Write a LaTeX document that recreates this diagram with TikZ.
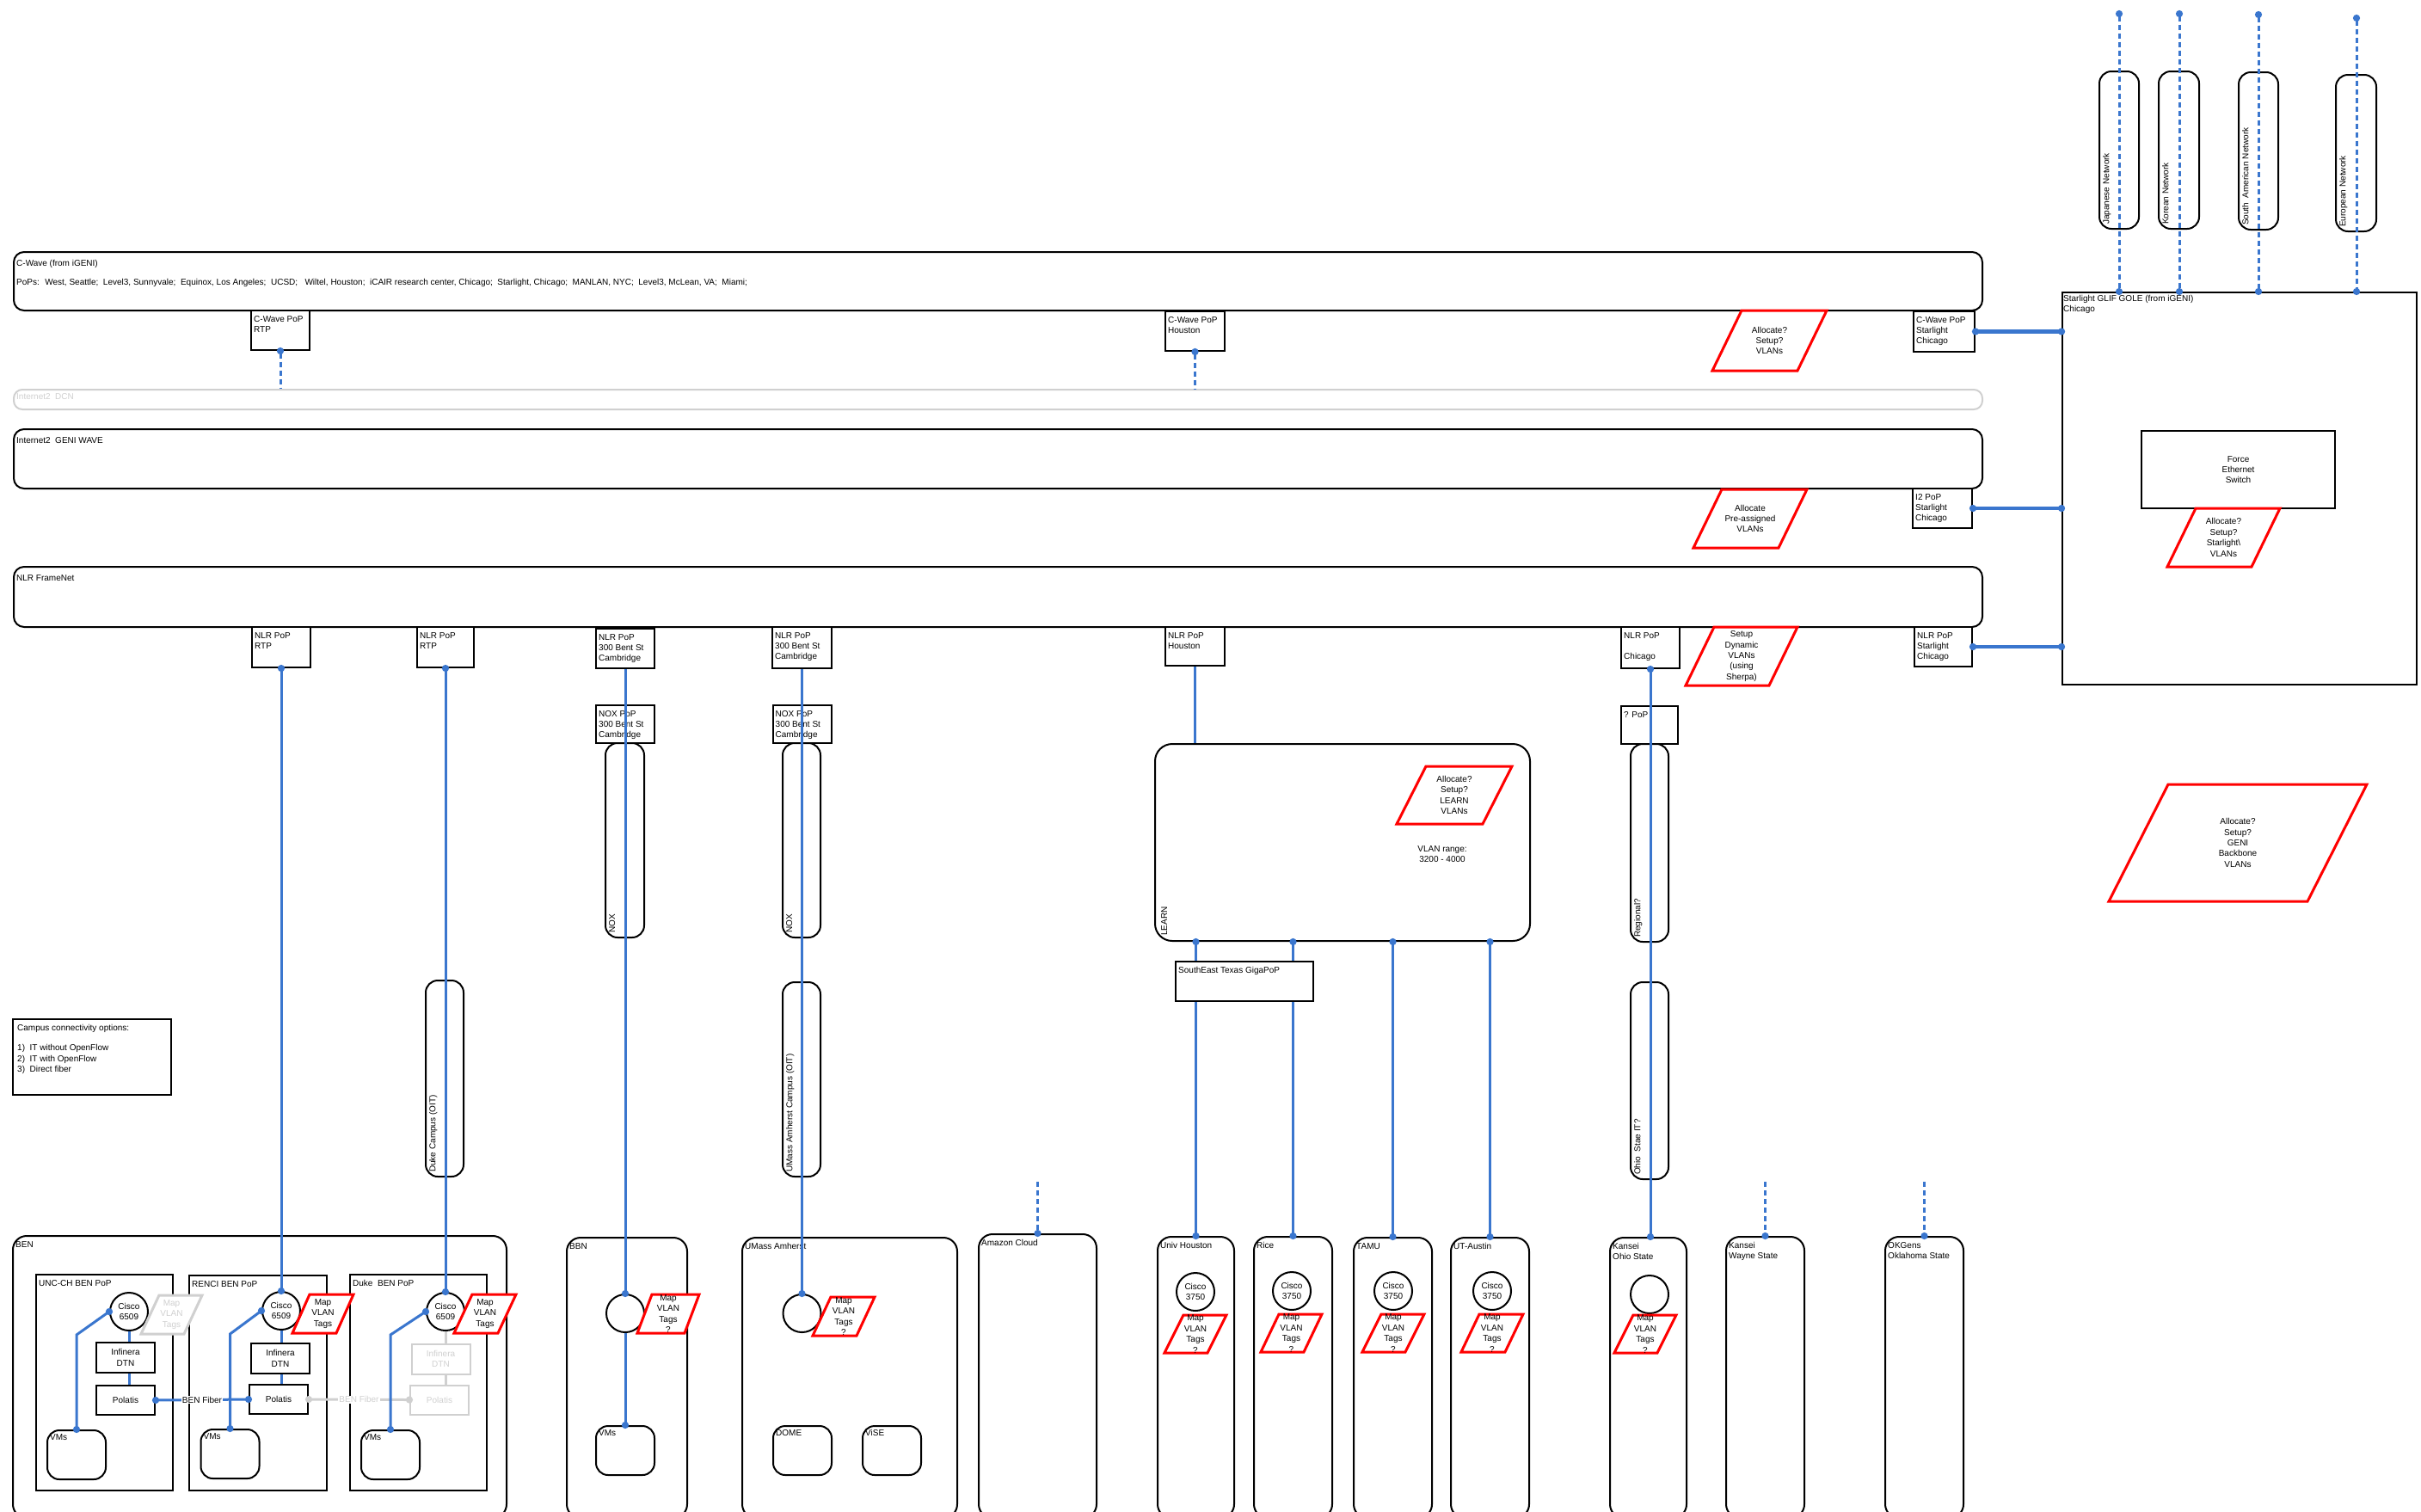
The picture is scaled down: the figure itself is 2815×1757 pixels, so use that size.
\documentclass[tikz,border=0pt]{standalone}
\usepackage{fontspec}
\setmainfont{Liberation Sans}
\usepackage{tikz}
\usetikzlibrary{arrows.meta,calc,fit,positioning}
\definecolor{linkblue}{RGB}{58,118,206}
\definecolor{fadegray}{RGB}{208,208,208}
\newcommand{\vlanflag}[6]{%
  \draw[flag, shift={#2}] ({#5-#3/2},{-#4/2}) -- ({#3/2},{-#4/2}) -- ({#3/2-#5},{#4/2}) -- ({-#3/2},{#4/2}) -- cycle;
  \node[flagtext] (#1) at #2 {#6};}
\tikzset{
  every node/.style={font=\fontsize{10}{12.4}\selectfont},
  band/.style={draw, line width=2pt, rounded corners=12pt, minimum width=2289pt, inner sep=0pt},
  container/.style={draw, line width=2pt, inner sep=0pt},
  site/.style={container, rounded corners=16pt},
  pill/.style={container, rounded corners=14pt},
  popbox/.style={draw, line width=2pt, fill=white, inner sep=0pt, minimum width=68pt, minimum height=46pt},
  devbox/.style={draw, line width=2pt, fill=white, inner sep=0pt, minimum width=68pt, minimum height=35pt, align=center},
  fadebox/.style={devbox, draw=fadegray, text=fadegray},
  vmbox/.style={draw, line width=2pt, rounded corners=14pt, minimum width=68pt, minimum height=57pt},
  switch/.style={draw, circle, line width=2pt, fill=white, minimum size=44pt, inner sep=0pt, align=center},
  title/.style={anchor=north west, align=left, inner xsep=4pt, inner ysep=7pt},
  vtitle/.style={rotate=90, anchor=north west, inner xsep=6pt, inner ysep=5pt},
  flag/.style={draw=red, line width=3pt, fill=white},
  fadeflag/.style={draw=fadegray, line width=3pt, fill=white},
  flagtext/.style={align=center, inner sep=0pt},
  link/.style={draw=linkblue, line width=3pt},
  fadelink/.style={draw=fadegray, line width=3pt},
  dlink/.style={draw=linkblue, line width=3pt, dash pattern=on 6pt off 4pt},
  trunk/.style={draw=linkblue, line width=4.5pt},
  dotboth/.style={{Circle[length=8pt]}-{Circle[length=8pt]}, shorten <=-4pt, shorten >=-4pt},
  dotstart/.style={{Circle[length=8pt]}-, shorten <=-4pt},
  dotend/.style={-{Circle[length=8pt]}, shorten >=-4pt},
  fiberlabel/.style={fill=white, inner sep=1pt}
}
\begin{document}
\begin{tikzpicture}[x=1pt,y=-1pt]
  \path[use as bounding box, fill=white] (0,0) rectangle (2815,1757);
  \clip (0,0) rectangle (2815,1757);

  \node[band, minimum height=68pt] (cwave) at (1160.5,327) {};
  \node[title, yshift=-3pt] (cwavetext) at (cwave.north west) {C-Wave (from iGENI)\\[9.6pt]PoPs:~ West, Seattle;~ Level3, Sunnyvale;~ Equinox, Los Angeles;~ UCSD;~~ Wiltel, Houston;~ iCAIR research center, Chicago;~ Starlight, Chicago;~ MANLAN, NYC;~ Level3, McLean, VA;~ Miami;};
  \node[band, draw=fadegray, rounded corners=10pt, minimum height=23pt] (dcn) at (1160.5,464.5) {};
  \node[title, text=fadegray, inner ysep=5pt] (dcntext) at (dcn.north west) {Internet2~ DCN};
  \node[band, minimum height=69pt] (i2wave) at (1160.5,533.5) {};
  \node[title, yshift=-3pt] (i2wavetext) at (i2wave.north west) {Internet2~ GENI WAVE};
  \node[band, minimum height=70pt] (nlr) at (1160.5,694) {};
  \node[title, yshift=-3pt] (nlrtext) at (nlr.north west) {NLR FrameNet};

  \node[popbox] (cwrtp) at (326,384) {};
  \node[title] (cwrtptext) at (cwrtp.north west) {C-Wave PoP\\RTP};
  \node[popbox, minimum width=69pt] (cwhou) at (1389.5,385) {};
  \node[title] (cwhoutext) at (cwhou.north west) {C-Wave PoP\\Houston};
  \node[popbox, minimum width=71pt, minimum height=47pt] (cwstar) at (2260.5,385.5) {};
  \node[title] (cwstartext) at (cwstar.north west) {C-Wave PoP\\Starlight\\Chicago};
  \vlanflag{flagcw}{(2057.5,396)}{133}{70}{34}{Allocate?\\Setup?\\VLANs}

  \node[popbox, minimum width=69pt] (i2star) at (2258.5,591) {};
  \node[title] (i2startext) at (i2star.north west) {I2 PoP\\Starlight\\Chicago};
  \vlanflag{flagi2}{(2035,603)}{132}{68}{33}{Allocate\\Pre-assigned\\VLANs}

  \node[popbox, minimum height=47pt] (nlrrtp) at (327,752.5) {};
  \node[title] (nlrrtptext) at (nlrrtp.north west) {NLR PoP\\RTP};
  \node[popbox, minimum width=66pt, minimum height=47pt] (nlrduke) at (518,752.5) {};
  \node[title] (nlrduketext) at (nlrduke.north west) {NLR PoP\\RTP};
  \node[popbox] (nlrbbn) at (727,754) {};
  \node[title] (nlrbbntext) at (nlrbbn.north west) {NLR PoP\\300 Bent St\\Cambridge};
  \node[popbox, minimum height=44pt] (noxbbn) at (727,842) {};
  \node[title] (noxbbntext) at (noxbbn.north west) {NOX PoP\\300 Bent St\\Cambridge};
  \node[popbox, minimum width=69pt, minimum height=48pt] (nlrumass) at (932.5,753) {};
  \node[title] (nlrumasstext) at (nlrumass.north west) {NLR PoP\\300 Bent St\\Cambridge};
  \node[popbox, minimum height=44pt] (noxumass) at (932.5,842) {};
  \node[title] (noxumasstext) at (noxumass.north west) {NOX PoP\\300 Bent St\\Cambridge};
  \node[popbox, minimum width=69pt, minimum height=45pt] (nlrhou) at (1389.5,751.5) {};
  \node[title] (nlrhoutext) at (nlrhou.north west) {NLR PoP\\Houston};
  \node[popbox, minimum height=48pt] (nlrchi) at (1919,753) {};
  \node[title] (nlrchitext) at (nlrchi.north west) {NLR PoP\\[12.4pt]Chicago};
  \node[popbox, minimum width=66pt, minimum height=44pt] (qpop) at (1918,843) {};
  \node[title] (qpoptext) at (qpop.north west) {? PoP};
  \vlanflag{flagnlr}{(2025,763)}{130}{68}{33}{Setup\\Dynamic\\VLANs\\(using\\Sherpa)}
  \node[popbox, minimum width=67pt] (nlrstar) at (2259.5,752) {};
  \node[title] (nlrstartext) at (nlrstar.north west) {NLR PoP\\Starlight\\Chicago};

  \node[container, fit={(2398,340)(2810,796)}] (gole) {};
  \node[title, inner xsep=2pt, inner ysep=4pt] (goletext) at (gole.north west) {Starlight GLIF GOLE (from iGENI)\\Chicago};
  \node[popbox, minimum width=225pt, minimum height=90pt, align=center] (force) at (2602.5,546) {Force\\Ethernet\\Switch};
  \vlanflag{flagstar}{(2585.5,625)}{131}{68}{33}{Allocate?\\Setup?\\Starlight\textbackslash\\VLANs}
  \vlanflag{flaggeni}{(2602,980)}{300}{136}{69}{Allocate?\\Setup?\\GENI\\Backbone\\VLANs}

  \node[pill, fit={(2441,83)(2487,266)}] (japan) {};
  \node[vtitle] (japantext) at (japan.south west) {Japanese Network};
  \node[pill, fit={(2510,83)(2557,266)}] (korea) {};
  \node[vtitle] (koreatext) at (korea.south west) {Korean Network};
  \node[pill, fit={(2603,84)(2649,267)}] (southam) {};
  \node[vtitle] (southamtext) at (southam.south west) {South~ American Network};
  \node[pill, fit={(2716,87)(2763,269)}] (europe) {};
  \node[vtitle] (europetext) at (europe.south west) {European Network};
  \coordinate (japanend) at (2464,16);
  \coordinate (koreaend) at (2534,16);
  \coordinate (southamend) at (2626,17);
  \coordinate (europeend) at (2740,21);

  \node[container, fit={(15,1185)(199,1273)}] (campus) {};
  \node[title, inner xsep=6pt, inner ysep=7pt] (campustext) at (campus.north west) {Campus connectivity options:\\[11pt]1)~ IT without OpenFlow\\2)~ IT with OpenFlow\\3)~ Direct fiber};

  \node[pill, fit={(495,1140)(539,1368)}] (dukeoit) {};
  \node[vtitle] (dukeoittext) at (dukeoit.south west) {Duke Campus (OIT)};
  \node[pill, fit={(704,864)(749,1090)}] (noxbbnpill) {};
  \node[vtitle] (noxbbnpilltext) at (noxbbnpill.south west) {NOX};
  \node[pill, fit={(910,864)(954,1090)}] (noxumasspill) {};
  \node[vtitle] (noxumasspilltext) at (noxumasspill.south west) {NOX};
  \node[pill, fit={(910,1142)(954,1368)}] (umassoit) {};
  \node[vtitle] (umassoittext) at (umassoit.south west) {UMass Amherst Campus (OIT)};
  \node[pill, fit={(1896,865)(1940,1095)}] (regional) {};
  \node[vtitle] (regionaltext) at (regional.south west) {Regional?};
  \node[pill, fit={(1896,1142)(1940,1371)}] (ohiooit) {};
  \node[vtitle] (ohiooittext) at (ohiooit.south west) {Ohio~ Stae IT?};

  \node[site, fit={(15,1437)(589,1765)}] (ben) {};
  \node[title] (bentext) at (ben.north west) {BEN};
  \node[container, fit={(42,1482)(201,1733)}] (uncpop) {};
  \node[title] (uncpoptext) at (uncpop.north west) {UNC-CH BEN PoP};
  \node[container, fit={(220,1483)(380,1733)}] (rencipop) {};
  \node[title] (rencipoptext) at (rencipop.north west) {RENCI BEN PoP};
  \node[container, fit={(407,1482)(566,1733)}] (dukepop) {};
  \node[title] (dukepoptext) at (dukepop.north west) {Duke~ BEN PoP};

  \node[switch] (ciscounc) at (150,1525) {Cisco\\6509};
  \node[switch] (ciscorenci) at (327,1524) {Cisco\\6509};
  \node[switch] (ciscoduke) at (518,1525) {Cisco\\6509};
  \draw[fadeflag] (185,1506) -- (235,1506) -- (214,1551) -- (164,1551) -- cycle;
  \node[flagtext, text=fadegray] (mapunc) at (199.5,1528.5) {Map\\VLAN\\Tags};
  \vlanflag{maprenci}{(375.5,1527.5)}{71}{45}{20}{Map\\VLAN\\Tags}
  \vlanflag{mapduke}{(564,1527.5)}{72}{45}{21}{Map\\VLAN\\Tags}
  \node[devbox] (infunc) at (146,1578.5) {Infinera\\DTN};
  \node[devbox] (infrenci) at (326,1579.5) {Infinera\\DTN};
  \node[fadebox] (infduke) at (512.5,1580) {Infinera\\DTN};
  \node[devbox, minimum height=34pt] (polunc) at (146,1628) {Polatis};
  \node[devbox, minimum height=34pt] (polrenci) at (324,1627) {Polatis};
  \node[fadebox, minimum height=34pt] (polduke) at (511,1627.5) {Polatis};
  \node[vmbox] (vmsunc) at (89,1691.5) {};
  \node[title, inner ysep=5pt] (vmsunctext) at (vmsunc.north west) {VMs};
  \node[vmbox] (vmsrenci) at (267.5,1690.5) {};
  \node[title, inner ysep=5pt] (vmsrencitext) at (vmsrenci.north west) {VMs};
  \node[vmbox] (vmsduke) at (454,1691.5) {};
  \node[title, inner ysep=5pt] (vmsduketext) at (vmsduke.north west) {VMs};

  \node[site, fit={(659,1439)(799,1765)}] (bbn) {};
  \node[title] (bbntext) at (bbn.north west) {BBN};
  \node[switch] (bbncirc) at (727,1527) {};
  \vlanflag{mapbbn}{(777,1527.5)}{72}{45}{17}{Map\\VLAN\\Tags\\?}
  \node[vmbox] (vmsbbn) at (727,1686.5) {};
  \node[title, inner ysep=5pt] (vmsbbntext) at (vmsbbn.north west) {VMs};

  \node[site, fit={(863,1439)(1113,1765)}] (umass) {};
  \node[title] (umasstext) at (umass.north west) {UMass Amherst};
  \node[switch] (umasscirc) at (932.5,1527) {};
  \vlanflag{mapumass}{(981,1530.5)}{72}{45}{21}{Map\\VLAN\\Tags\\?}
  \node[vmbox] (dome) at (933,1686.5) {};
  \node[title, inner ysep=5pt] (dometext) at (dome.north west) {DOME};
  \node[vmbox] (vise) at (1037,1686.5) {};
  \node[title, inner ysep=5pt] (visetext) at (vise.north west) {ViSE};

  \node[site, fit={(1138,1435)(1275,1765)}] (amazon) {};
  \node[title] (amazontext) at (amazon.north west) {Amazon Cloud};
  \coordinate (amazonend) at (1206.5,1374);

  \node[site, rounded corners=20pt, fit={(1343,865)(1779,1094)}] (learn) {};
  \node[vtitle, inner xsep=7pt, inner ysep=8pt] (learntext) at (learn.south west) {LEARN};
  \vlanflag{flaglearn}{(1691,924.5)}{134}{67}{34}{Allocate?\\Setup?\\LEARN\\VLANs}
  \node[flagtext] (vlanrange) at (1677,993) {VLAN range:\\3200 - 4000};
  \node[popbox, minimum width=160pt] (setx) at (1447,1141) {};
  \node[title] (setxtext) at (setx.north west) {SouthEast Texas GigaPoP};

  \node[site, fit={(1346,1438)(1435,1765)}] (uh) {};
  \node[title] (uhtext) at (uh.north west) {Univ Houston};
  \node[switch] (ciscouh) at (1390,1502) {Cisco\\3750};
  \vlanflag{mapuh}{(1390,1551)}{72}{44}{22}{Map\\VLAN\\Tags\\?}
  \node[site, fit={(1458,1438)(1549,1765)}] (rice) {};
  \node[title] (ricetext) at (rice.north west) {Rice};
  \node[switch] (ciscorice) at (1502,1501) {Cisco\\3750};
  \vlanflag{maprice}{(1501.5,1550)}{71}{44}{21}{Map\\VLAN\\Tags\\?}
  \node[site, fit={(1574,1439)(1665,1765)}] (tamu) {};
  \node[title] (tamutext) at (tamu.north west) {TAMU};
  \node[switch] (ciscotamu) at (1620,1501) {Cisco\\3750};
  \vlanflag{maptamu}{(1620,1550)}{72}{44}{22}{Map\\VLAN\\Tags\\?}
  \node[site, fit={(1687,1439)(1778,1765)}] (utaustin) {};
  \node[title] (utaustintext) at (utaustin.north west) {UT-Austin};
  \node[switch] (ciscout) at (1735,1501) {Cisco\\3750};
  \vlanflag{maput}{(1735,1550)}{72}{44}{21}{Map\\VLAN\\Tags\\?}
  \node[site, fit={(1872,1439)(1961,1765)}] (kohio) {};
  \node[title] (kohiotext) at (kohio.north west) {Kansei\\Ohio State};
  \node[switch] (kohiocirc) at (1918,1505) {};
  \vlanflag{mapkohio}{(1913,1551)}{72}{44}{22}{Map\\VLAN\\Tags\\?}
  \node[site, fit={(2007,1438)(2098,1765)}] (kwayne) {};
  \node[title] (kwaynetext) at (kwayne.north west) {Kansei\\Wayne State};
  \coordinate (kwayneend) at (2052.5,1374);
  \node[site, fit={(2192,1438)(2283,1765)}] (okgens) {};
  \node[title] (okgenstext) at (okgens.north west) {OKGens\\Oklahoma State};
  \coordinate (okgensend) at (2237.5,1374);

  \draw[dlink, dotstart] (cwrtp.south) -- (cwrtp.south |- dcn.north);
  \draw[dlink, dotstart] (cwhou.south) -- (cwhou.south |- dcn.north);
  \draw[dlink, dotboth] (japanend) -- (japanend |- gole.north);
  \draw[dlink, dotboth] (koreaend) -- (koreaend |- gole.north);
  \draw[dlink, dotboth] (southamend) -- (southamend |- gole.north);
  \draw[dlink, dotboth] (europeend) -- (europeend |- gole.north);
  \draw[dlink, dotend] (amazonend) -- (amazon.north);
  \draw[dlink, dotend] (kwayneend) -- (kwayne.north);
  \draw[dlink, dotend] (okgensend) -- (okgens.north);

  \draw[trunk, dotboth] (cwstar.east) -- (cwstar.east -| gole.west);
  \draw[trunk, dotboth] (i2star.east) -- (i2star.east -| gole.west);
  \draw[trunk, dotboth] (nlrstar.east) -- (nlrstar.east -| gole.west);

  \draw[link, dotboth] (nlrrtp.south) -- (ciscorenci.north);
  \draw[link, dotboth] (nlrduke.south) -- (ciscoduke.north);
  \draw[link, dotend] (nlrbbn.south) -- (bbncirc.north);
  \draw[link, dotend] (nlrumass.south) -- (umasscirc.north);
  \draw[link] (nlrhou.south) -- (nlrhou.south |- learn.north);
  \draw[link, dotboth] (nlrchi.south) -- (nlrchi.south |- kohio.north);

  \draw[link, dotstart] (learn.south -| uh.north) -- (setx.north -| uh.north);
  \draw[link, dotend] (setx.south -| uh.north) -- (uh.north);
  \draw[link, dotstart] (learn.south -| rice.north) -- (setx.north -| rice.north);
  \draw[link, dotend] (setx.south -| rice.north) -- (rice.north);
  \draw[link, dotboth] (learn.south -| tamu.north) -- (tamu.north);
  \draw[link, dotboth] (learn.south -| utaustin.north) -- (utaustin.north);

  \draw[link] (ciscounc.south) -- (ciscounc.south |- infunc.north);
  \draw[link] (ciscounc.south |- infunc.south) -- (ciscounc.south |- polunc.north);
  \draw[link] (ciscorenci.south) -- (ciscorenci.south |- infrenci.north);
  \draw[link] (ciscorenci.south |- infrenci.south) -- (ciscorenci.south |- polrenci.north);
  \draw[fadelink] (ciscoduke.south) -- (ciscoduke.south |- infduke.north);
  \draw[fadelink] (ciscoduke.south |- infduke.south) -- (ciscoduke.south |- polduke.north);
  \draw[link, dotboth] (polunc.east) -- node[fiberlabel] (fiberone) {BEN Fiber} (polrenci.west);
  \draw[fadelink, dotboth] (polrenci.east) -- node[fiberlabel, text=fadegray] (fibertwo) {BEN Fiber} (polduke.west);
  \draw[link, dotboth] (ciscounc.west) -- ($(vmsunc.north)+(0,-110)$) -- (vmsunc.north);
  \draw[link, dotboth] (ciscorenci.west) -- ($(vmsrenci.north)+(0,-110)$) -- (vmsrenci.north);
  \draw[link, dotboth] (ciscoduke.west) -- ($(vmsduke.north)+(0,-110)$) -- (vmsduke.north);
  \draw[link, dotend] (bbncirc.south) -- (vmsbbn.north);
\end{tikzpicture}
\end{document}
